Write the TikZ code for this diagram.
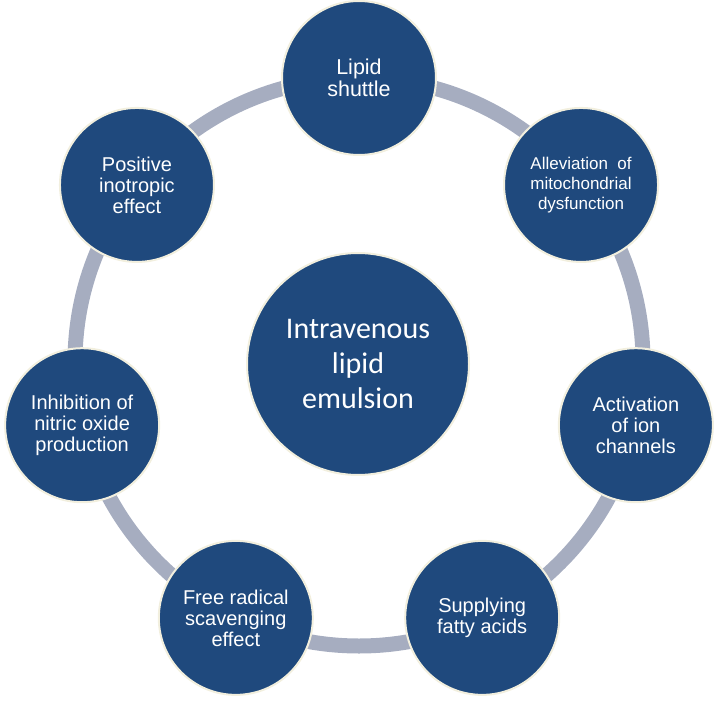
\documentclass[tikz,border=0pt]{standalone}
\usepackage{fontspec}
\setmainfont{Liberation Sans}
\newfontfamily\calib{Carlito}
\usetikzlibrary{calc}
\definecolor{bluefill}{RGB}{31,73,125}
\definecolor{ringgray}{RGB}{166,173,192}
\definecolor{cream}{RGB}{242,239,222}
\begin{document}
\begin{tikzpicture}[x=1pt,y=-1pt,
  outer/.style={circle,fill=bluefill,draw=cream,line width=2pt,inner sep=0pt,
    minimum size=154pt,text=white,align=center,font=\fontsize{20}{21}\selectfont},
  inner/.style={circle,fill=bluefill,draw=cream,line width=2pt,inner sep=0pt,
    minimum size=222pt,text=white,align=center,font=\calib\fontsize{30}{35}\selectfont}]
\useasboundingbox (0,0) rectangle (717,703);
\coordinate (c) at (359,362);
\draw[ringgray,line width=15pt] (c) circle[radius=284pt];
\node[inner] (ile) at (358,364) {Intravenous\\lipid\\emulsion};
\node[outer,font=\fontsize{21.5}{22}\selectfont] (n1) at ($(c)+(-90:284)$) {Lipid\\shuttle};
\node[outer,font=\fontsize{17}{20}\selectfont] (n2) at ($(c)+(-38.57:284)$) {Alleviation~~of\\mitochondrial\\dysfunction};
\node[outer] (n3) at ($(c)+(12.86:284)$) {Activation\\of ion\\channels};
\node[outer] (n4) at ($(c)+(64.29:284)$) {Supplying\\fatty acids};
\node[outer] (n5) at ($(c)+(115.71:284)$) {Free radical\\scavenging\\effect};
\node[outer] (n6) at ($(c)+(167.14:284)$) {Inhibition of\\nitric oxide\\production};
\node[outer] (n7) at ($(c)+(-141.43:284)$) {Positive\\inotropic\\effect};
\end{tikzpicture}
\end{document}
